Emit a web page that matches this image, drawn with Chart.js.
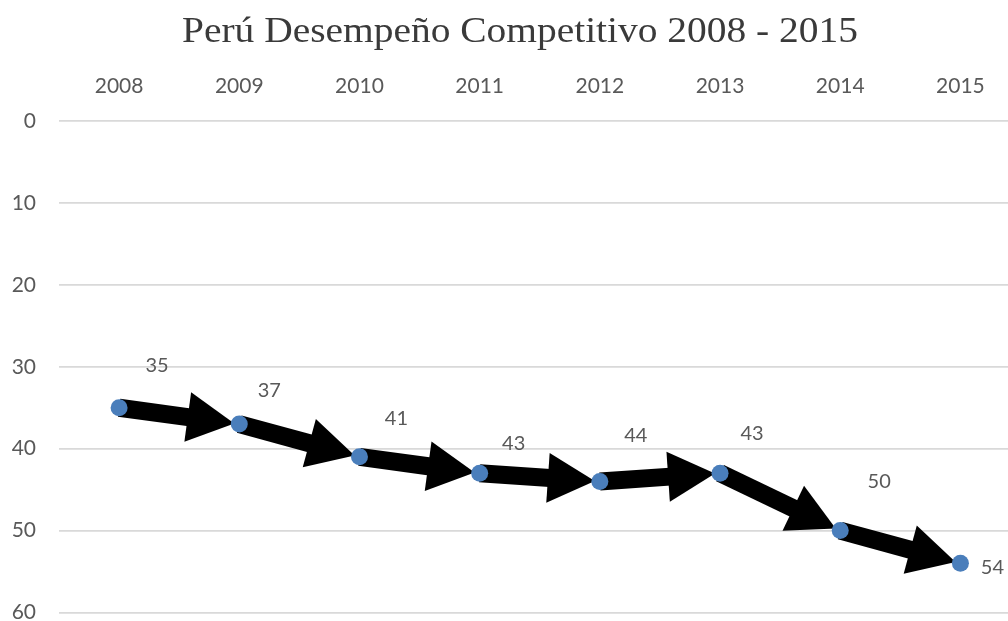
<!DOCTYPE html>
<html>
<head>
<meta charset="utf-8">
<script src="https://cdn.jsdelivr.net/npm/chart.js@4.4.1/dist/chart.umd.min.js"></script>
<style>
  html, body { margin: 0; padding: 0; background: #ffffff; overflow: hidden; }
  #wrap { width: 1029px; height: 621px; position: relative; }
</style>
</head>
<body>
<div id="wrap"><canvas id="c"></canvas></div>
<script>
const years = ['2008', '2009', '2010', '2011', '2012', '2013', '2014', '2015'];
const ranking = [35, 37, 41, 43, 44, 43, 50, 54];
const yTicks = [0, 10, 20, 30, 40, 50, 60];
const titleText = 'Perú Desempeño Competitivo 2008 - 2015';

// label placement (pixel offsets from each point), layout only
const labelOffsets = [[38, -42], [30, -34], [37, -38], [34, -30], [36, -46], [32, -40], [39, -49], [32, 4]];

const titlePlugin = {
  id: 'customTitle',
  afterDraw(chart) {
    const ctx = chart.ctx;
    ctx.save();
    ctx.font = '36px "Liberation Serif"';
    ctx.fillStyle = '#3a3a3a';
    ctx.textBaseline = 'alphabetic';
    ctx.textAlign = 'left';
    const w = ctx.measureText(titleText).width;
    const target = 676;
    ctx.translate(520 - target / 2, 42);
    ctx.scale(target / w, 1);
    ctx.fillText(titleText, 0, 0);
    ctx.restore();
  }
};

const arrowPlugin = {
  id: 'arrows',
  beforeDatasetsDraw(chart) {
    const meta = chart.getDatasetMeta(0);
    const ctx = chart.ctx;
    const pts = meta.data.map(p => ({ x: p.x, y: p.y }));
    ctx.save();
    ctx.fillStyle = '#000000';
    ctx.strokeStyle = '#000000';
    const shaft = 18, headLen = 47, headHalf = 25;
    for (let i = 0; i < pts.length - 1; i++) {
      const a = pts[i], b = pts[i + 1];
      const dx = b.x - a.x, dy = b.y - a.y;
      const len = Math.hypot(dx, dy);
      const ux = dx / len, uy = dy / len;
      const nx = -uy, ny = ux;
      const tip = { x: b.x - ux * 5, y: b.y - uy * 5 };
      const base = { x: tip.x - ux * headLen, y: tip.y - uy * headLen };
      ctx.lineWidth = shaft;
      ctx.lineCap = 'butt';
      ctx.beginPath();
      ctx.moveTo(a.x, a.y);
      ctx.lineTo(base.x + ux * 2, base.y + uy * 2);
      ctx.stroke();
      ctx.beginPath();
      ctx.moveTo(tip.x, tip.y);
      ctx.lineTo(base.x + nx * headHalf, base.y + ny * headHalf);
      ctx.lineTo(base.x - nx * headHalf, base.y - ny * headHalf);
      ctx.closePath();
      ctx.fill();
    }
    ctx.restore();
  },
  afterDatasetsDraw(chart) {
    const meta = chart.getDatasetMeta(0);
    const ctx = chart.ctx;
    const data = chart.data.datasets[0].data;
    ctx.save();
    ctx.font = '20px Lato';
    ctx.fillStyle = '#595959';
    ctx.textAlign = 'center';
    ctx.textBaseline = 'middle';
    meta.data.forEach((p, i) => {
      const o = labelOffsets[i];
      ctx.fillText(String(data[i]), p.x + o[0], p.y + o[1]);
    });
    ctx.restore();
  }
};

new Chart(document.getElementById('c'), {
  type: 'line',
  data: {
    labels: years,
    datasets: [{
      data: ranking,
      showLine: false,
      pointRadius: 8.5,
      pointHoverRadius: 8.5,
      pointBackgroundColor: '#4a7ebb',
      pointBorderColor: '#4a7ebb',
      pointBorderWidth: 0
    }]
  },
  options: {
    responsive: true,
    maintainAspectRatio: false,
    animation: false,
    events: [],
    layout: { padding: { left: 0, right: 0, top: 0, bottom: 6 } },
    plugins: {
      legend: { display: false },
      tooltip: { enabled: false },
      title: { display: false }
    },
    scales: {
      x: {
        type: 'category',
        position: 'top',
        offset: true,
        grid: { display: false, drawTicks: false },
        border: { display: false },
        ticks: { color: '#595959', font: { family: 'Lato', size: 21 }, padding: 22, maxRotation: 0 },
        afterFit(scale) { scale.height = 121; scale.paddingLeft = 0; scale.paddingRight = 0; }
      },
      y: {
        reverse: true,
        min: 0,
        max: 60,
        afterBuildTicks(scale) { scale.ticks = yTicks.map(v => ({ value: v })); },
        grid: { color: '#d9d9d9', lineWidth: 1.8, drawTicks: false },
        border: { display: false },
        ticks: { color: '#595959', font: { family: 'Lato', size: 21 }, padding: 23 },
        afterFit(scale) { scale.width = 59; scale.paddingTop = 0; scale.paddingBottom = 0; }
      }
    }
  },
  plugins: [arrowPlugin, titlePlugin]
});
</script>
</body>
</html>
